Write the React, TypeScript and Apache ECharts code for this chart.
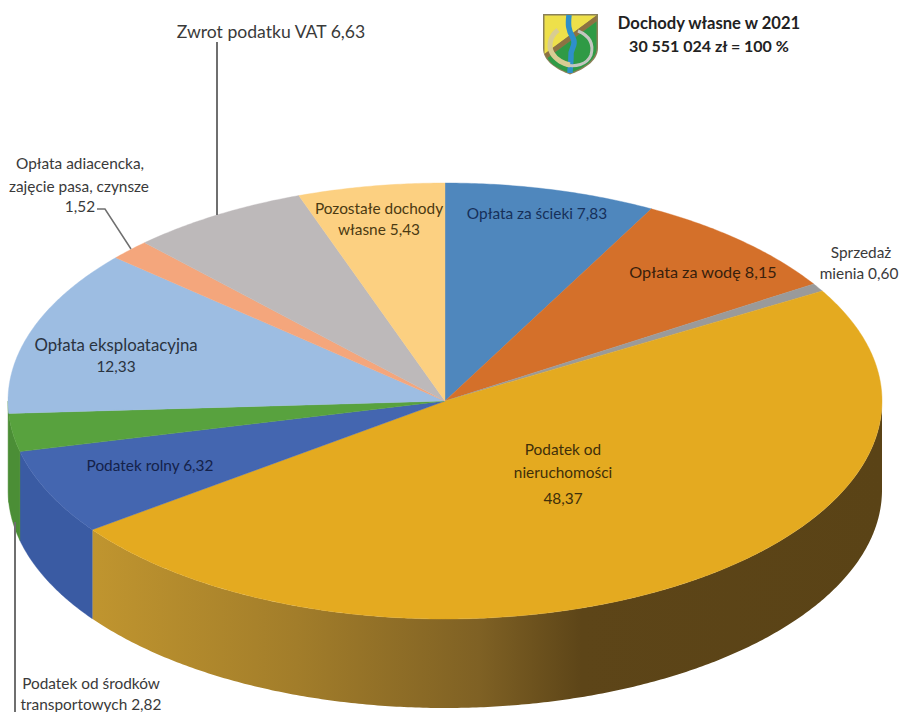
import React, { useEffect, useRef } from "react";
import * as echarts from "echarts";

const categories = [
  "Opłata za ścieki",
  "Opłata za wodę",
  "Sprzedaż mienia",
  "Podatek od nieruchomości",
  "Podatek rolny",
  "Podatek od środków transportowych",
  "Opłata eksploatacyjna",
  "Opłata adiacencka, zajęcie pasa, czynsze",
  "Zwrot podatku VAT",
  "Pozostałe dochody własne",
];
const shares = [7.83, 8.15, 0.6, 48.37, 6.32, 2.82, 12.33, 1.52, 6.63, 5.43];
const topColors = ["#4f87bd", "#d4702a", "#9a9a9a", "#e4aa20", "#4466b0", "#58a23e", "#9dbde2", "#f4a67c", "#bdb9ba", "#fcd081"];
const wallColors = ["#3f6c97", "#aa5a22", "#7b7b7b", "#e4aa20", "#3a5ba3", "#4b8e36", "#4b8e36", "#c38563", "#979495", "#caa667"];

const titleLines = ["Dochody własne w 2021", "30 551 024 zł = 100 %"];
type Lbl = [string, number, number, string?, number?];
const labelTexts: Lbl[] = [
  ["Zwrot podatku VAT 6,63", 271, 31, undefined, 17.6],
  ["Opłata adiacencka,", 80, 163],
  ["zajęcie pasa, czynsze", 79, 186],
  ["1,52", 80, 206],
  ["Pozostałe dochody", 379, 208, "#4b3a12"],
  ["własne 5,43", 379, 229, "#4b3a12"],
  ["Opłata za ścieki 7,83", 537, 213, "#16305a"],
  ["Opłata za wodę 8,15", 703, 271, "#38200c", 16.2],
  ["Sprzedaż", 861, 252],
  ["mienia 0,60", 859, 273],
  ["Opłata eksploatacyjna", 116, 344, "#2a3340", 16.8],
  ["12,33", 116, 366, "#2a3340"],
  ["Podatek rolny 6,32", 150, 465, "#14224a"],
  ["Podatek od", 563, 449, "#3f2f0a"],
  ["nieruchomości", 563, 472, "#3f2f0a"],
  ["48,37", 563, 498, "#3f2f0a"],
  ["Podatek od środków", 91, 683],
  ["transportowych 2,82", 91, 704],
];

const CX = 445;
const CY = 401;
const RX = 437;
const RY = 218;
const DEPTH = 89;

const ell = (deg: number, dy = 0): number[] => {
  const t = (deg * Math.PI) / 180;
  return [CX + RX * Math.sin(t), CY - RY * Math.cos(t) + dy];
};
const arc = (a: number, b: number, dy = 0): number[][] => {
  const out: number[][] = [];
  const n = Math.max(2, Math.ceil(Math.abs(b - a) * 2));
  for (let i = 0; i <= n; i++) out.push(ell(a + ((b - a) * i) / n, dy));
  return out;
};

const goldWall = {
  type: "linear", x: 92, y: 0, x2: 882, y2: 0, global: true,
  colorStops: [
    { offset: 0, color: "#c0952f" },
    { offset: 0.26, color: "#a27d2a" },
    { offset: 0.49, color: "#7f6124" },
    { offset: 0.62, color: "#5d4518" },
    { offset: 1, color: "#5a4316" },
  ],
};

const total = shares.reduce((s, v) => s + v, 0);

const renderItem = (params: any, api: any) => {
  const i = params.dataIndex;
  const before = shares.slice(0, i).reduce((s, v) => s + v, 0);
  const a0 = (before / total) * 360;
  const a1 = ((before + api.value(0)) / total) * 360;
  const children: any[] = [];
  const w0 = Math.max(a0, 90);
  const w1 = Math.min(a1, 270);
  if (w1 > w0) {
    const top = arc(w0, w1);
    const bot = arc(w0, w1, DEPTH).reverse();
    const fill = i === 3 ? goldWall : wallColors[i];
    children.push({
      type: "polygon",
      shape: { points: [...top, ...bot] },
      style: { fill, stroke: i === 3 ? undefined : fill, lineWidth: i === 3 ? 0 : 0.4 },
    });
  }
  children.push({
    type: "polygon",
    shape: { points: [[CX, CY], ...arc(a0, a1)] },
    style: { fill: topColors[i], stroke: topColors[i], lineWidth: 0.4 },
  });
  return { type: "group", children };
};

const shieldShapes: [string, string][] = [
  ["shieldBase", "M543 14 L598 14 L598 48 C598 62 582 70 570 74.5 C558 70 543 62 543 48 Z"],
  ["shieldYellow", "M544.5 15.5 L596.5 15.5 L544.5 54 Z"],
  ["shieldBrown", "M596.5 15.5 L596.5 21.5 L547.5 58 L544.5 54 Z"],
  ["shieldGreen", "M596.5 21.5 L596.5 48 C596.5 61 581 69 570 73 C560 69.5 551 65 547.5 58 Z"],
  ["shieldRiver", "M569 15 C568 24 568 30 573 38 C577 46 570 48 571 56 C571 62 570 68 570 73"],
  ["shieldShoe", "M578 31 C590 36 594 44 591 55 C587 65 575 67 566 65"],
  ["shieldWheat", "M558 30 C550 36 548 46 552 53 C556 60 564 64 570 65"],
];
shieldShapes.forEach(([n, d]) => {
  echarts.graphic.registerShape(n, (echarts.graphic as any).extendPath(d, {}));
});

const FONT = "Lato";

export default function App() {
  const ref = useRef<HTMLDivElement>(null);
  useEffect(() => {
    document.body.style.margin = "0";
    const chart = echarts.init(ref.current!, undefined, { renderer: "svg" });
    const graphics: any[] = [
      { type: "shieldBase", style: { fill: "#8a8058" } },
      { type: "shieldYellow", style: { fill: "#eee04a" } },
      { type: "shieldBrown", style: { fill: "#8d7242" } },
      { type: "shieldGreen", style: { fill: "#2f9a45" } },
      { type: "shieldRiver", style: { fill: "none", stroke: "#2e8fca", lineWidth: 5.5 } },
      { type: "shieldShoe", style: { fill: "none", stroke: "#c3c6c0", lineWidth: 3 } },
      { type: "shieldWheat", style: { fill: "none", stroke: "#d8cc93", lineWidth: 5 } },
      { type: "polyline", shape: { points: [[217, 42], [217, 215]] }, style: { stroke: "#6f6f6f", lineWidth: 2, fill: "none" } },
      { type: "polyline", shape: { points: [[97, 209], [105, 209], [131, 249]] }, style: { stroke: "#6f6f6f", lineWidth: 1.5, fill: "none" } },
      { type: "polyline", shape: { points: [[15, 522], [15, 712]] }, style: { stroke: "#6f6f6f", lineWidth: 2, fill: "none" } },
      ...titleLines.map((t, k) => ({
        type: "text", x: 709, y: 23 + k * 22,
        style: { text: t, fill: "#222222", font: `bold ${k === 0 ? 16.6 : 16}px ${FONT}`, textAlign: "center", textVerticalAlign: "middle" },
      })),
      ...labelTexts.map(([t, x, y, c, s]) => ({
        type: "text", x, y,
        style: { text: t, fill: c || "#3a3a3a", font: `${s || 15.4}px ${FONT}`, textAlign: "center", textVerticalAlign: "middle" },
      })),
    ];
    chart.setOption({
      animation: false,
      backgroundColor: "#ffffff",
      tooltip: { show: false },
      series: [
        {
          type: "custom",
          name: "Dochody własne w 2021",
          coordinateSystem: "none",
          renderItem,
          clip: false,
          silent: true,
          data: shares.map((v, i) => ({ name: categories[i], value: [v] })),
        },
      ],
      graphic: { elements: graphics.map((g) => ({ ...g, z: 10 })) },
    });
    return () => chart.dispose();
  }, []);
  return <div ref={ref} style={{ position: "absolute", left: 0, top: 0, width: 901, height: 712, overflow: "hidden" }} />;
}
